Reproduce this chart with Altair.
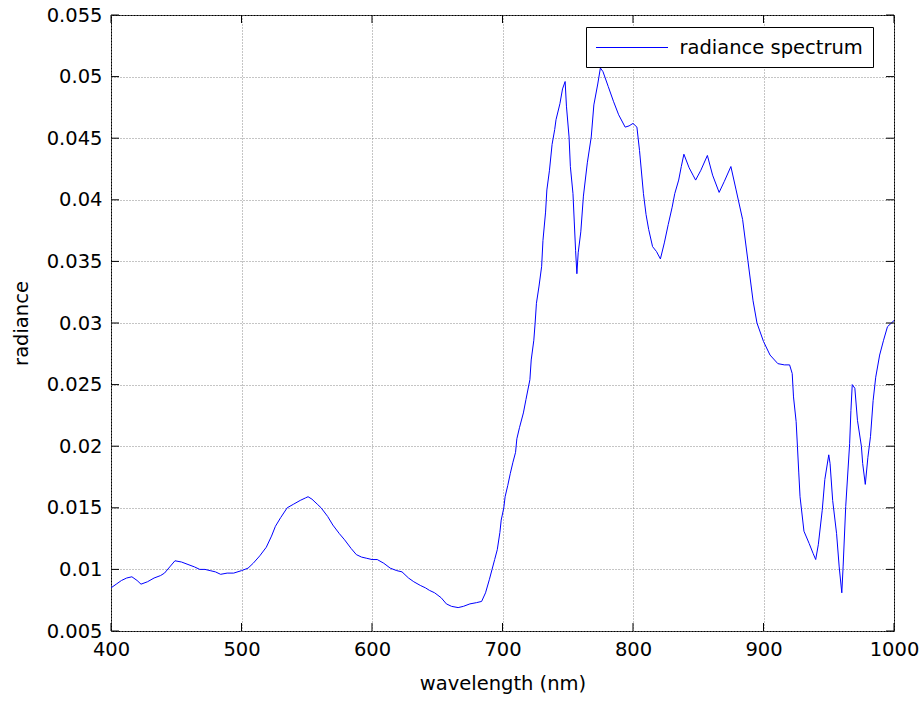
import altair as alt
import pandas as pd

# ---- data ----
wavelength = [
    400, 404, 408, 412, 416, 420, 423, 428, 433, 438, 441, 445, 449, 454, 459, 464, 468, 472, 476, 480,
    484, 489, 494, 500, 505, 509, 514, 519, 523, 526, 530, 535, 540, 545, 549, 551, 554, 558, 561, 566,
    570, 575, 579, 584, 588, 592, 596, 600, 604, 609, 614, 619, 623, 628, 632, 637, 641, 644, 648, 653,
    657, 661, 666, 670, 675, 680, 684, 687, 690, 692, 694, 696, 698, 699, 701, 702, 704, 706, 708, 710,
    711, 713, 716, 718, 721, 722, 724, 725, 726, 728, 730, 731, 733, 734, 736, 738, 740, 741, 744, 746,
    748, 749, 751, 752, 754, 755, 756, 757, 758, 760, 762, 765, 768, 770, 773, 775, 777, 781, 785, 789,
    794, 797, 800, 803, 805, 808, 810, 812, 815, 818, 821, 824, 827, 830, 832, 835, 837, 839, 843, 846,
    848, 852, 857, 861, 866, 870, 875, 879, 884, 888, 892, 895, 900, 905, 911, 916, 920, 922, 923, 925,
    926, 927, 928, 931, 935, 938, 940, 942, 945, 947, 950, 951, 953, 956, 958, 960, 961, 963, 966, 967,
    968, 970, 972, 975, 976, 978, 980, 982, 984, 986, 989, 992, 995, 998, 1000,
]
radiance = [
    0.0085, 0.0088, 0.0091, 0.0093, 0.0094, 0.0091, 0.0088, 0.0090, 0.0093, 0.0095, 0.0097, 0.0102, 0.0107, 0.0106, 0.0104, 0.0102, 0.0100, 0.0100, 0.0099, 0.0098,
    0.0096, 0.0097, 0.0097, 0.0099, 0.0101, 0.0105, 0.0111, 0.0118, 0.0127, 0.0135, 0.0142, 0.0150, 0.0153, 0.0156, 0.0158, 0.0159, 0.0157, 0.0153, 0.0150, 0.0143,
    0.0136, 0.0129, 0.0124, 0.0117, 0.0112, 0.0110, 0.0109, 0.0108, 0.0108, 0.0105, 0.0101, 0.0099, 0.0098, 0.0093, 0.0090, 0.0087, 0.0085, 0.0083, 0.0081, 0.0077,
    0.0072, 0.0070, 0.0069, 0.0070, 0.0072, 0.0073, 0.0074, 0.0081, 0.0092, 0.0100, 0.0108, 0.0116, 0.0130, 0.0140, 0.0150, 0.0159, 0.0168, 0.0178, 0.0187, 0.0195,
    0.0206, 0.0215, 0.0227, 0.0238, 0.0254, 0.0270, 0.0286, 0.0300, 0.0316, 0.0330, 0.0346, 0.0367, 0.0390, 0.0408, 0.0424, 0.0445, 0.0457, 0.0465, 0.0478, 0.0490,
    0.0496, 0.0476, 0.0451, 0.0427, 0.0405, 0.0382, 0.0359, 0.0340, 0.0357, 0.0374, 0.0403, 0.0430, 0.0451, 0.0477, 0.0494, 0.0507, 0.0504, 0.0492, 0.0480, 0.0469,
    0.0459, 0.0460, 0.0462, 0.0459, 0.0440, 0.0405, 0.0388, 0.0376, 0.0362, 0.0358, 0.0352, 0.0365, 0.0380, 0.0394, 0.0405, 0.0416, 0.0427, 0.0437, 0.0426, 0.0420,
    0.0416, 0.0424, 0.0436, 0.0420, 0.0406, 0.0415, 0.0427, 0.0408, 0.0384, 0.0351, 0.0318, 0.0300, 0.0285, 0.0274, 0.0267, 0.0266, 0.0266, 0.0259, 0.0240, 0.0220,
    0.0200, 0.0179, 0.0159, 0.0131, 0.0121, 0.0113, 0.0108, 0.0120, 0.0148, 0.0173, 0.0193, 0.0186, 0.0156, 0.0129, 0.0102, 0.0081, 0.0102, 0.0151, 0.0202, 0.0229,
    0.0250, 0.0247, 0.0221, 0.0200, 0.0186, 0.0169, 0.0191, 0.0208, 0.0237, 0.0256, 0.0274, 0.0286, 0.0297, 0.0300, 0.0302,
]
series_name = "radiance spectrum"
x_ticks = [400, 500, 600, 700, 800, 900, 1000]
y_ticks = [0.005, 0.01, 0.015, 0.02, 0.025, 0.03, 0.035, 0.04, 0.045, 0.05, 0.055]

df = pd.DataFrame({"wavelength": wavelength, "radiance": radiance, "series": series_name})
xt = pd.DataFrame({"wavelength": x_ticks})
yt = pd.DataFrame({"radiance": y_ticks})

FONT = "DejaVu Sans"
FS = 19.5
W, H = 783, 616
TL = 8  # inward tick length

xscale = alt.Scale(domain=[400, 1000], nice=False, zero=False)
yscale = alt.Scale(domain=[0.005, 0.055], nice=False, zero=False)

grid_kw = dict(grid=True, gridColor="#8a8a8a", gridDash=[1, 2], gridWidth=1, gridOpacity=1)

main = alt.Chart(df).mark_line(strokeWidth=1).encode(
    x=alt.X(
        "wavelength:Q", scale=xscale, title="wavelength (nm)",
        axis=alt.Axis(values=x_ticks, format="d", domain=False, ticks=False, tickSize=0, labelPadding=9,
                      labelFlush=False, labelOverlap=False, titlePadding=16, **grid_kw),
    ),
    y=alt.Y(
        "radiance:Q", scale=yscale, title="radiance",
        axis=alt.Axis(values=y_ticks, format=".3~f", domain=False, ticks=False, tickSize=0,
                      labelPadding=9, labelFlush=False, labelOverlap=False, titlePadding=15, **grid_kw),
    ),
    color=alt.Color(
        "series:N", scale=alt.Scale(range=["#0000ff"]),
        legend=alt.Legend(
            title=None, orient="none", legendX=475, legendY=12,
            strokeColor="black", fillColor="white", padding=10, cornerRadius=0,
            symbolType="M-3.6,0H3.6", symbolSize=400, symbolStrokeWidth=1,
            symbolOffset=25.5, labelOffset=37, labelLimit=400,
            labelFont=FONT, labelFontSize=FS, labelColor="black",
        ),
    ),
)

# inward tick marks on all four sides, placed through the shared scales
tick_bottom = alt.Chart(xt).mark_rule(color="black", strokeWidth=1).encode(
    x=alt.X("wavelength:Q", scale=xscale), y=alt.value(H), y2=alt.value(H - TL))
tick_top = alt.Chart(xt).mark_rule(color="black", strokeWidth=1).encode(
    x=alt.X("wavelength:Q", scale=xscale), y=alt.value(0), y2=alt.value(TL))
tick_left = alt.Chart(yt).mark_rule(color="black", strokeWidth=1).encode(
    y=alt.Y("radiance:Q", scale=yscale), x=alt.value(0), x2=alt.value(TL))
tick_right = alt.Chart(yt).mark_rule(color="black", strokeWidth=1).encode(
    y=alt.Y("radiance:Q", scale=yscale), x=alt.value(W), x2=alt.value(W - TL))

chart = (
    alt.layer(main, tick_bottom, tick_top, tick_left, tick_right)
    .properties(
        width=W, height=H,
        autosize=alt.AutoSizeParams(type="none"),
        padding={"left": 111, "top": 15, "right": 30, "bottom": 73},
        background="white",
    )
    .configure_view(stroke="black", strokeWidth=1)
    .configure_axis(
        labelFont=FONT, labelFontSize=FS, labelColor="black",
        titleFont=FONT, titleFontSize=FS, titleColor="black", titleFontWeight="normal",
    )
)

chart.save("out.html", embed_options={"renderer": "svg", "actions": False})
